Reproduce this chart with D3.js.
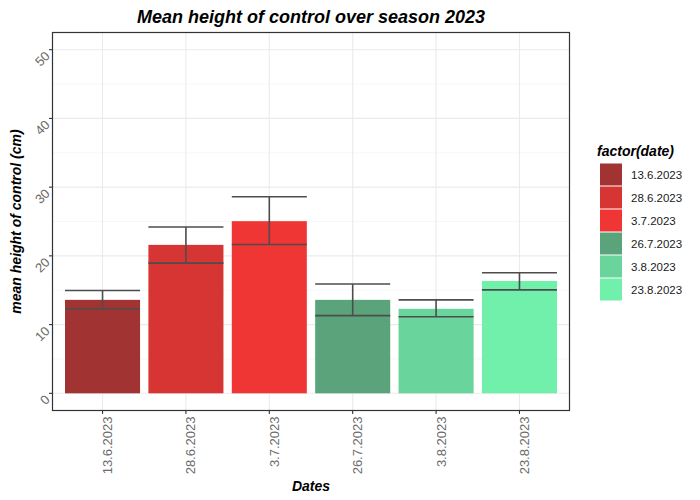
<!DOCTYPE html>
<html><head><meta charset="utf-8">
<script src="https://cdn.jsdelivr.net/npm/d3@7"></script>
<style>body{margin:0;background:#fff}text{font-family:"Liberation Sans",Arial,sans-serif}</style>
</head><body>
<script>
const dates = ["13.6.2023","28.6.2023","3.7.2023","26.7.2023","3.8.2023","23.8.2023"];
const meanHeight = [13.6, 21.6, 25.05, 13.6, 12.3, 16.35];
const errUpper = [14.95, 24.2, 28.6, 15.9, 13.6, 17.55];
const errLower = [12.3, 18.95, 21.65, 11.3, 11.15, 15.05];
const barColors = ["#a13333","#d73434","#f03535","#5aa37b","#69d59d","#70f0ab"];
const yTicks = [0,10,20,30,40,50];
const yMinor = [5,15,25,35,45];

const W=700,H=500;
const svg=d3.select("body").append("svg").attr("width",W).attr("height",H);
const L=52.5,R=569.5,T=32.5,B=410.5;
const y=d3.scaleLinear().domain([-2.5,52.5]).range([B,T]);
// ggplot discrete expansion 0.6 on each side: band scale with outer padding
const x=d3.scaleBand().domain(dates).range([L,R]).paddingInner(0).paddingOuter(0.1);
const unit=x.step();
const cx=d=>x(d)+unit/2;
const bw=unit*0.9;

const g=svg.append("g");
g.append("rect").attr("x",L).attr("y",T).attr("width",R-L).attr("height",B-T).attr("fill","#fff");
g.selectAll(".gm").data(yMinor).enter().append("line").attr("x1",L).attr("x2",R)
 .attr("y1",d=>y(d)).attr("y2",d=>y(d)).attr("stroke","#f2f2f2").attr("stroke-width",0.6);
g.selectAll(".gM").data(yTicks).enter().append("line").attr("x1",L).attr("x2",R)
 .attr("y1",d=>y(d)).attr("y2",d=>y(d)).attr("stroke","#ebebeb").attr("stroke-width",1.1);
g.selectAll(".gx").data(dates).enter().append("line").attr("y1",T).attr("y2",B)
 .attr("x1",d=>cx(d)).attr("x2",d=>cx(d)).attr("stroke","#ebebeb").attr("stroke-width",1.1);

g.selectAll(".bar").data(dates).enter().append("rect")
 .attr("x",d=>cx(d)-bw/2).attr("width",bw)
 .attr("y",(d,i)=>y(meanHeight[i])).attr("height",(d,i)=>y(0)-y(meanHeight[i]))
 .attr("fill",(d,i)=>barColors[i]);

const eb=g.selectAll(".eb").data(dates).enter().append("g").attr("stroke","#4d4d4d").attr("stroke-width",1.6);
eb.append("line").attr("x1",d=>cx(d)).attr("x2",d=>cx(d)).attr("y1",(d,i)=>y(errUpper[i])).attr("y2",(d,i)=>y(errLower[i]));
eb.append("line").attr("x1",d=>cx(d)-bw/2).attr("x2",d=>cx(d)+bw/2).attr("y1",(d,i)=>y(errUpper[i])).attr("y2",(d,i)=>y(errUpper[i]));
eb.append("line").attr("x1",d=>cx(d)-bw/2).attr("x2",d=>cx(d)+bw/2).attr("y1",(d,i)=>y(errLower[i])).attr("y2",(d,i)=>y(errLower[i]));

g.append("rect").attr("x",L).attr("y",T).attr("width",R-L).attr("height",B-T).attr("fill","none").attr("stroke","#333").attr("stroke-width",1.2);

// y ticks
yTicks.forEach(t=>{
  g.append("line").attr("x1",L-3.5).attr("x2",L).attr("y1",y(t)).attr("y2",y(t)).attr("stroke","#333").attr("stroke-width",1.1);
  g.append("text").attr("transform",`translate(${L-5},${y(t)+4}) rotate(-45)`).attr("text-anchor","end")
   .attr("font-size",13).attr("fill","#6b6b6b").attr("dominant-baseline","central").text(t);
});
// x ticks
dates.forEach(d=>{
  g.append("line").attr("x1",cx(d)).attr("x2",cx(d)).attr("y1",B).attr("y2",B+3.5).attr("stroke","#333").attr("stroke-width",1.1);
  g.append("text").attr("transform",`translate(${cx(d)+5},${B+6}) rotate(-90)`).attr("text-anchor","end")
   .attr("dominant-baseline","central").attr("font-size",13).attr("fill","#6b6b6b").text(d);
});

svg.append("text").attr("x",(L+R)/2).attr("y",23).attr("text-anchor","middle").attr("font-size",18)
 .attr("font-weight","bold").attr("font-style","italic").text("Mean height of control over season 2023");
svg.append("text").attr("x",(L+R)/2).attr("y",491).attr("text-anchor","middle").attr("font-size",14)
 .attr("font-weight","bold").attr("font-style","italic").text("Dates");
svg.append("text").attr("transform",`translate(21,${(T+B)/2}) rotate(-90)`).attr("text-anchor","middle").attr("font-size",14)
 .attr("font-weight","bold").attr("font-style","italic").text("mean height of control (cm)");

// legend
const lg=svg.append("g");
lg.append("text").attr("x",597).attr("y",156).attr("font-size",14).attr("font-weight","bold").attr("font-style","italic").text("factor(date)");
dates.forEach((d,i)=>{
  const yy=163.5+i*23;
  lg.append("rect").attr("x",600).attr("y",yy).attr("width",22).attr("height",22).attr("fill",barColors[i]);
  lg.append("text").attr("x",631).attr("y",yy+11).attr("dominant-baseline","central").attr("font-size",11.5).attr("fill","#1a1a1a").text(d);
});
</script>
</body></html>
